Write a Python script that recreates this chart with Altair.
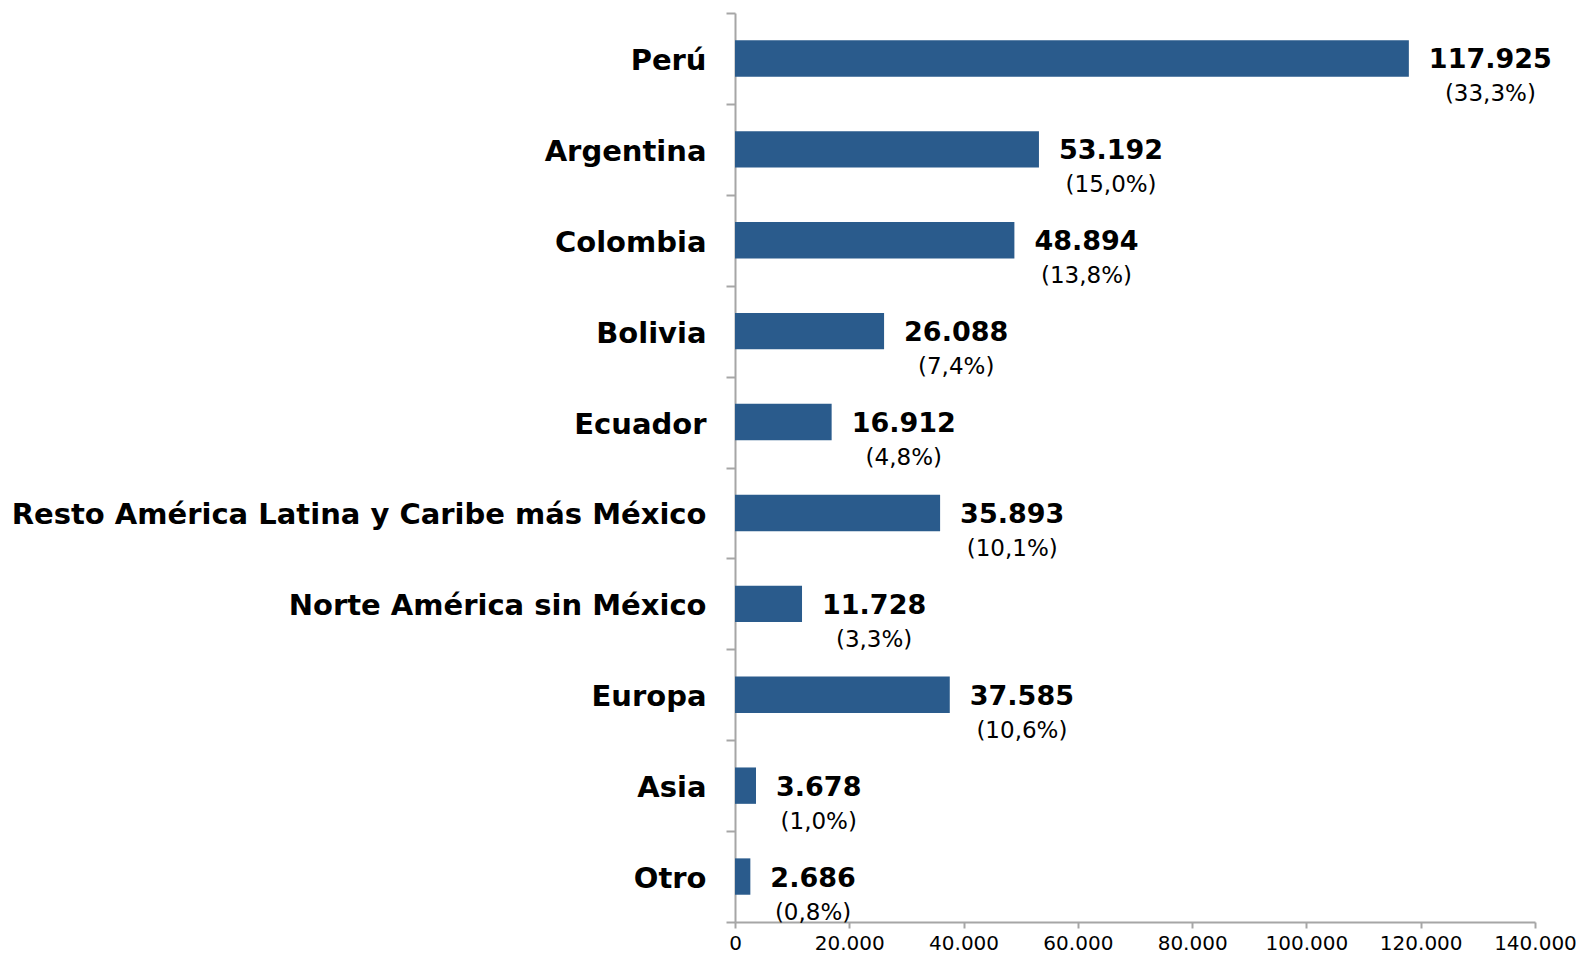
import altair as alt
import pandas as pd

categories = [
    "Perú",
    "Argentina",
    "Colombia",
    "Bolivia",
    "Ecuador",
    "Resto América Latina y Caribe más México",
    "Norte América sin México",
    "Europa",
    "Asia",
    "Otro",
]
values = [117925, 53192, 48894, 26088, 16912, 35893, 11728, 37585, 3678, 2686]
shares = [33.3, 15.0, 13.8, 7.4, 4.8, 10.1, 3.3, 10.6, 1.0, 0.8]
x_ticks = [0, 20000, 40000, 60000, 80000, 100000, 120000, 140000]

df = pd.DataFrame({"cat": categories, "value": values, "share": shares})

AX = "#a6a6a6"
BAR = "#2A5B8C"
W, H = 800, 909
XMAX = 140000
PER_PX = XMAX / W  # data units per pixel, used to centre the share under the value
VAL_FS = 27

base = alt.Chart(df).transform_calculate(
    vlabel="replace(format(datum.value, ','), ',', '.')",
    plabel="'(' + replace(format(datum.share, '.1f'), '.', ',') + '%)'",
).transform_calculate(
    xp=f"datum.value + (20 + ((length(datum.vlabel) - 1) * {0.696 * VAL_FS} + {0.381 * VAL_FS}) / 2) * {PER_PX}",
)

y = alt.Y(
    "cat:N",
    sort=categories,
    scale=alt.Scale(paddingInner=0, paddingOuter=0),
    axis=alt.Axis(
        title=None,
        tickBand="extent",
        labelFont="DejaVu Sans",
        labelFontWeight="bold",
        labelFontSize=29,
        labelColor="black",
        labelPadding=20,
        labelOffset=2,
        labelLimit=1000,
        tickSize=9,
        tickColor=AX,
        domainColor=AX,
        domainWidth=2,
        tickWidth=2,
    ),
)
x = alt.X(
    "value:Q",
    scale=alt.Scale(domain=[0, XMAX], nice=False),
    axis=alt.Axis(
        values=x_ticks,
        title=None,
        grid=False,
        labelExpr="replace(format(datum.value, ','), ',', '.')",
        labelFont="DejaVu Sans",
        labelFontSize=20,
        labelColor="black",
        labelFlush=False,
        labelPadding=5,
        tickSize=6,
        tickColor=AX,
        domainColor=AX,
        domainWidth=2,
        tickWidth=2,
    ),
)

bars = base.mark_bar(color=BAR, height={"band": 0.4}).encode(x=x, y=y)

vals = base.mark_text(
    align="left",
    baseline="middle",
    dx=20,
    dy=2,
    font="DejaVu Sans",
    fontWeight="bold",
    fontSize=VAL_FS,
    color="black",
).encode(x=x, y=y, text="vlabel:N")

pcts = base.mark_text(
    align="center",
    baseline="middle",
    dy=36,
    font="DejaVu Sans",
    fontSize=23,
    color="black",
).encode(x=alt.X("xp:Q", scale=alt.Scale(domain=[0, XMAX], nice=False)), y=y, text="plabel:N")

chart = (
    alt.layer(bars, vals, pcts)
    .properties(
        width=W,
        height=H,
        autosize=alt.AutoSizeParams(type="none"),
        padding={"left": 727, "top": 5, "right": 41, "bottom": 31},
    )
    .configure_view(stroke=None)
)

chart.save("out.html", embed_options={"renderer": "svg", "actions": False})
